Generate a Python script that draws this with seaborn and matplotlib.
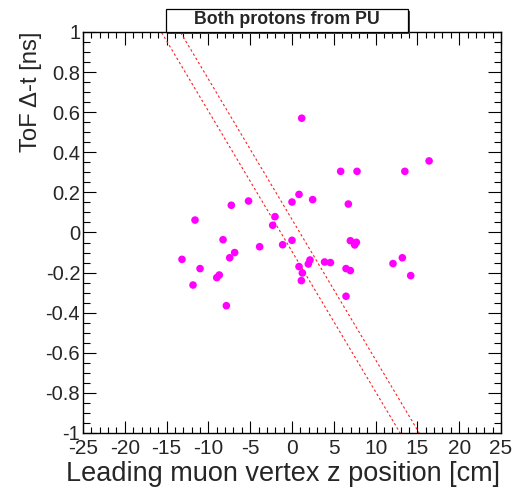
import numpy as np
import pandas as pd
import matplotlib
matplotlib.use("Agg")
import matplotlib.pyplot as plt
import seaborn as sns
from matplotlib.ticker import MultipleLocator
from matplotlib.patches import Rectangle

# ---- data ----
z_cm = [-13.16, -11.84, -11.6, -11.0, -9.0, -8.7, -8.25, -7.85, -7.45, -7.26,
        -6.86, -5.2, -3.87, -2.31, -2.03, -1.12, 0.0, 0.0, 0.84, 0.84,
        1.12, 1.16, 1.24, 1.95, 2.15, 2.47, 3.9, 4.6, 5.82, 6.46,
        6.46, 6.74, 6.98, 6.98, 7.5, 7.7, 7.78, 12.08, 13.2, 13.5,
        14.2, 16.4]
dt_ns = [-0.134, -0.262, 0.062, -0.18, -0.225, -0.212, -0.036, -0.365, -0.126, 0.136,
         -0.10, 0.157, -0.071, 0.036, 0.079, -0.061, 0.152, -0.039, 0.19, -0.17,
         -0.24, 0.57, -0.202, -0.157, -0.137, 0.164, -0.147, -0.15, 0.305, -0.18,
         -0.318, 0.142, -0.041, -0.19, -0.062, -0.049, 0.305, -0.155, -0.126, 0.305,
         -0.215, 0.357]

band_slope = [-0.07, -0.07]      # ns per cm
band_z0 = [-1.35, 0.93]          # z where line crosses dt = 0
line_z = [-30.0, 30.0]

title = "Both protons from PU"
xlabel = "Leading muon vertex z position [cm]"
ylabel = "ToF \u0394-t [ns]"

# ---- figure ----
sns.set_style("ticks")
plt.rcParams['font.family'] = ['Liberation Sans', 'DejaVu Sans']

W, H = 516, 488
fig = plt.figure(figsize=(W / 100, H / 100), dpi=100)
ax = fig.add_axes([83 / W, 1 - 433 / H, (501 - 83) / W, (433 - 32) / H])

df = pd.DataFrame({"z": z_cm, "dt": dt_ns})
sns.scatterplot(data=df, x="z", y="dt", ax=ax, color="#ff00ff", s=30,
                edgecolor="none", zorder=3)

for m, z0 in zip(band_slope, band_z0):
    zz = np.array(line_z)
    ax.plot(zz, m * (zz - z0), color="#ff2020", lw=0.8, ls=(0, (2.2, 2.2)), zorder=2)

ax.set_xlim(-25, 25)
ax.set_ylim(-1, 1)
ax.set_xlabel("")
ax.set_ylabel("")

ax.xaxis.set_major_locator(MultipleLocator(5))
ax.xaxis.set_minor_locator(MultipleLocator(1))
ax.yaxis.set_major_locator(MultipleLocator(0.2))
ax.yaxis.set_minor_locator(MultipleLocator(0.05))

def yfmt(v, p):
    if abs(v) < 1e-9:
        return "0"
    return ("%.1f" % v).rstrip("0").rstrip(".")
def xfmt(v, p):
    return "%d" % round(v)
ax.xaxis.set_major_formatter(matplotlib.ticker.FuncFormatter(xfmt))
ax.yaxis.set_major_formatter(matplotlib.ticker.FuncFormatter(yfmt))

ax.tick_params(which="both", direction="in", top=True, right=True, color="black", width=0.8)
ax.tick_params(axis="x", which="major", length=9, labelsize=15, pad=4)
ax.tick_params(axis="x", which="minor", length=4.5)
ax.tick_params(axis="y", which="major", length=9.5, labelsize=14.5, pad=2)
ax.tick_params(axis="y", which="minor", length=5)
for s in ax.spines.values():
    s.set_color("black")
    s.set_linewidth(1.0)

# axis titles (ROOT style, right/top aligned)
fig.text(500 / W, 1 - 474 / H, xlabel, ha="right", va="center", fontsize=19.5)
fig.text(31 / W, 1 - 31 / H, ylabel, ha="center", va="top", rotation=90, fontsize=17.2)

# title box with shadow
bx0, bx1, by0, by1 = 166, 408, 9, 32
fig.add_artist(Rectangle((bx0 / W + 2 / W, 1 - (by1 + 2) / H), (bx1 - bx0) / W, (by1 - by0) / H,
                         transform=fig.transFigure, facecolor="#444444", edgecolor="none", zorder=5))
fig.add_artist(Rectangle((bx0 / W, 1 - by1 / H), (bx1 - bx0) / W, (by1 - by0) / H,
                         transform=fig.transFigure, facecolor="white", edgecolor="black",
                         linewidth=0.9, zorder=6))
fig.text(287 / W, 1 - 20 / H, title, ha="center", va="center", fontsize=12.8,
         fontweight="bold", zorder=7)

fig.savefig("out.png", dpi=100)
